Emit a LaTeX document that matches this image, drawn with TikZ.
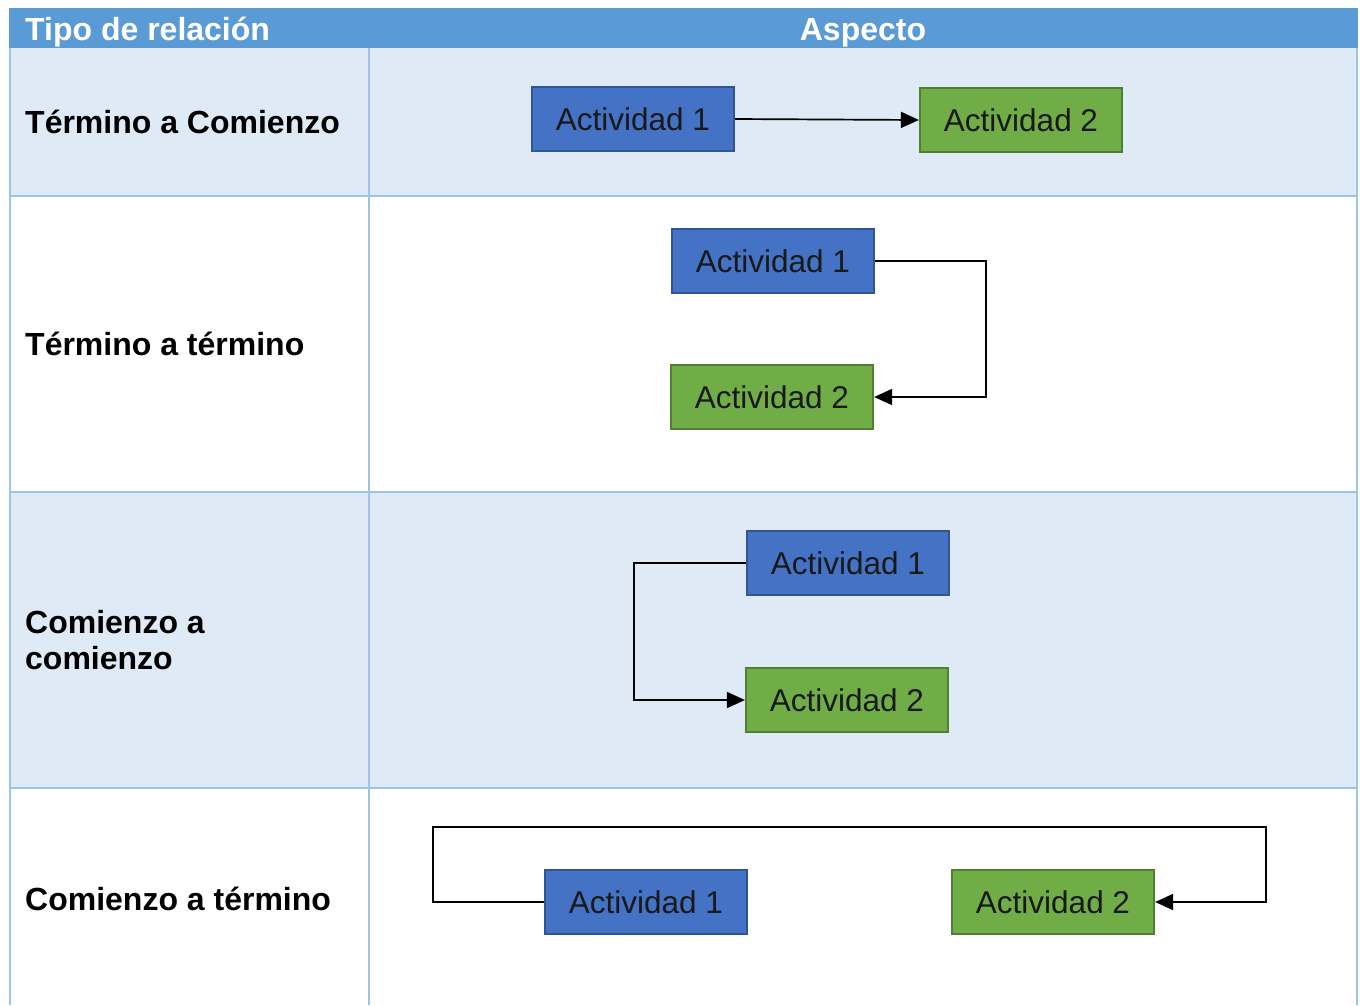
\documentclass[tikz,border=0pt]{standalone}
\usepackage{fontspec}
\setmainfont{Liberation Sans}
\usetikzlibrary{arrows.meta}
\definecolor{headblue}{HTML}{5B9BD5}
\definecolor{rowblue}{HTML}{DEEAF6}
\definecolor{gridblue}{HTML}{9DC3E6}
\definecolor{actblue}{HTML}{4472C4}
\definecolor{actblueline}{HTML}{2F5597}
\definecolor{actgreen}{HTML}{70AD47}
\definecolor{actgreenline}{HTML}{507E32}
\tikzset{
  actbox/.style={minimum width=202pt, minimum height=64pt, inner sep=0pt, line width=2.2pt,
    font=\fontsize{31.5}{36}\selectfont, text=black!90},
  act1/.style={actbox, fill=actblue, draw=actblueline},
  act2/.style={actbox, fill=actgreen, draw=actgreenline},
  rowlabel/.style={anchor=west, align=left, inner sep=0pt,
    font=\fontsize{32}{36}\bfseries\selectfont},
  headtext/.style={inner sep=0pt, text=white, font=\fontsize{32}{36}\bfseries\selectfont},
  conn/.style={line width=1.7pt, -{Triangle[length=18pt,width=16pt]}},
  grid/.style={draw=gridblue, line width=2pt}
}
\begin{document}
\begin{tikzpicture}[x=1pt, y=-1pt]
  % canvas
  \fill[white] (0,0) rectangle (1360,1005);
  \useasboundingbox (0,0) rectangle (1360,1005);

  % table body
  \fill[headblue] (9,8) rectangle (1358,48);
  \fill[rowblue] (10,48) rectangle (1357,196);
  \fill[rowblue] (10,492) rectangle (1357,788);
  \draw[grid] (10,48) -- (10,1005);
  \draw[grid] (1357,48) -- (1357,1005);
  \draw[grid] (369,48) -- (369,1005);
  \draw[grid] (10,196) -- (1357,196);
  \draw[grid] (10,492) -- (1357,492);
  \draw[grid] (10,788) -- (1357,788);

  % header
  \node[headtext, anchor=base west] (h1) at (25,40) {Tipo de relación};
  \node[headtext, anchor=base] (h2) at (863,40) {Aspecto};

  % row labels
  \node[rowlabel] (l1) at (25,122) {Término a Comienzo};
  \node[rowlabel] (l2) at (25,344) {Término a término};
  \node[rowlabel] (l3) at (25,640) {Comienzo a\\comienzo};
  \node[rowlabel] (l4) at (25,899) {Comienzo a término};

  % finish-to-start
  \node[act1] (a1) at (633,119) {Actividad 1};
  \node[act2] (a2) at (1021,120) {Actividad 2};
  \draw[conn] (a1.east) -- (a2.west);

  % finish-to-finish
  \node[act1] (b1) at (773,261) {Actividad 1};
  \node[act2] (b2) at (772,397) {Actividad 2};
  \draw[conn] (b1.east) -- ++(111,0) |- (b2.east);

  % start-to-start
  \node[act1] (c1) at (848,563) {Actividad 1};
  \node[act2] (c2) at (847,700) {Actividad 2};
  \draw[conn] (c1.west) -- ++(-112,0) |- (c2.west);

  % start-to-finish
  \node[act1] (d1) at (646,902) {Actividad 1};
  \node[act2] (d2) at (1053,902) {Actividad 2};
  \coordinate (d4) at (1266,827);
  \draw[conn] (d1.west) -| (433,827) -- (d4) |- (d2.east);
\end{tikzpicture}
\end{document}
